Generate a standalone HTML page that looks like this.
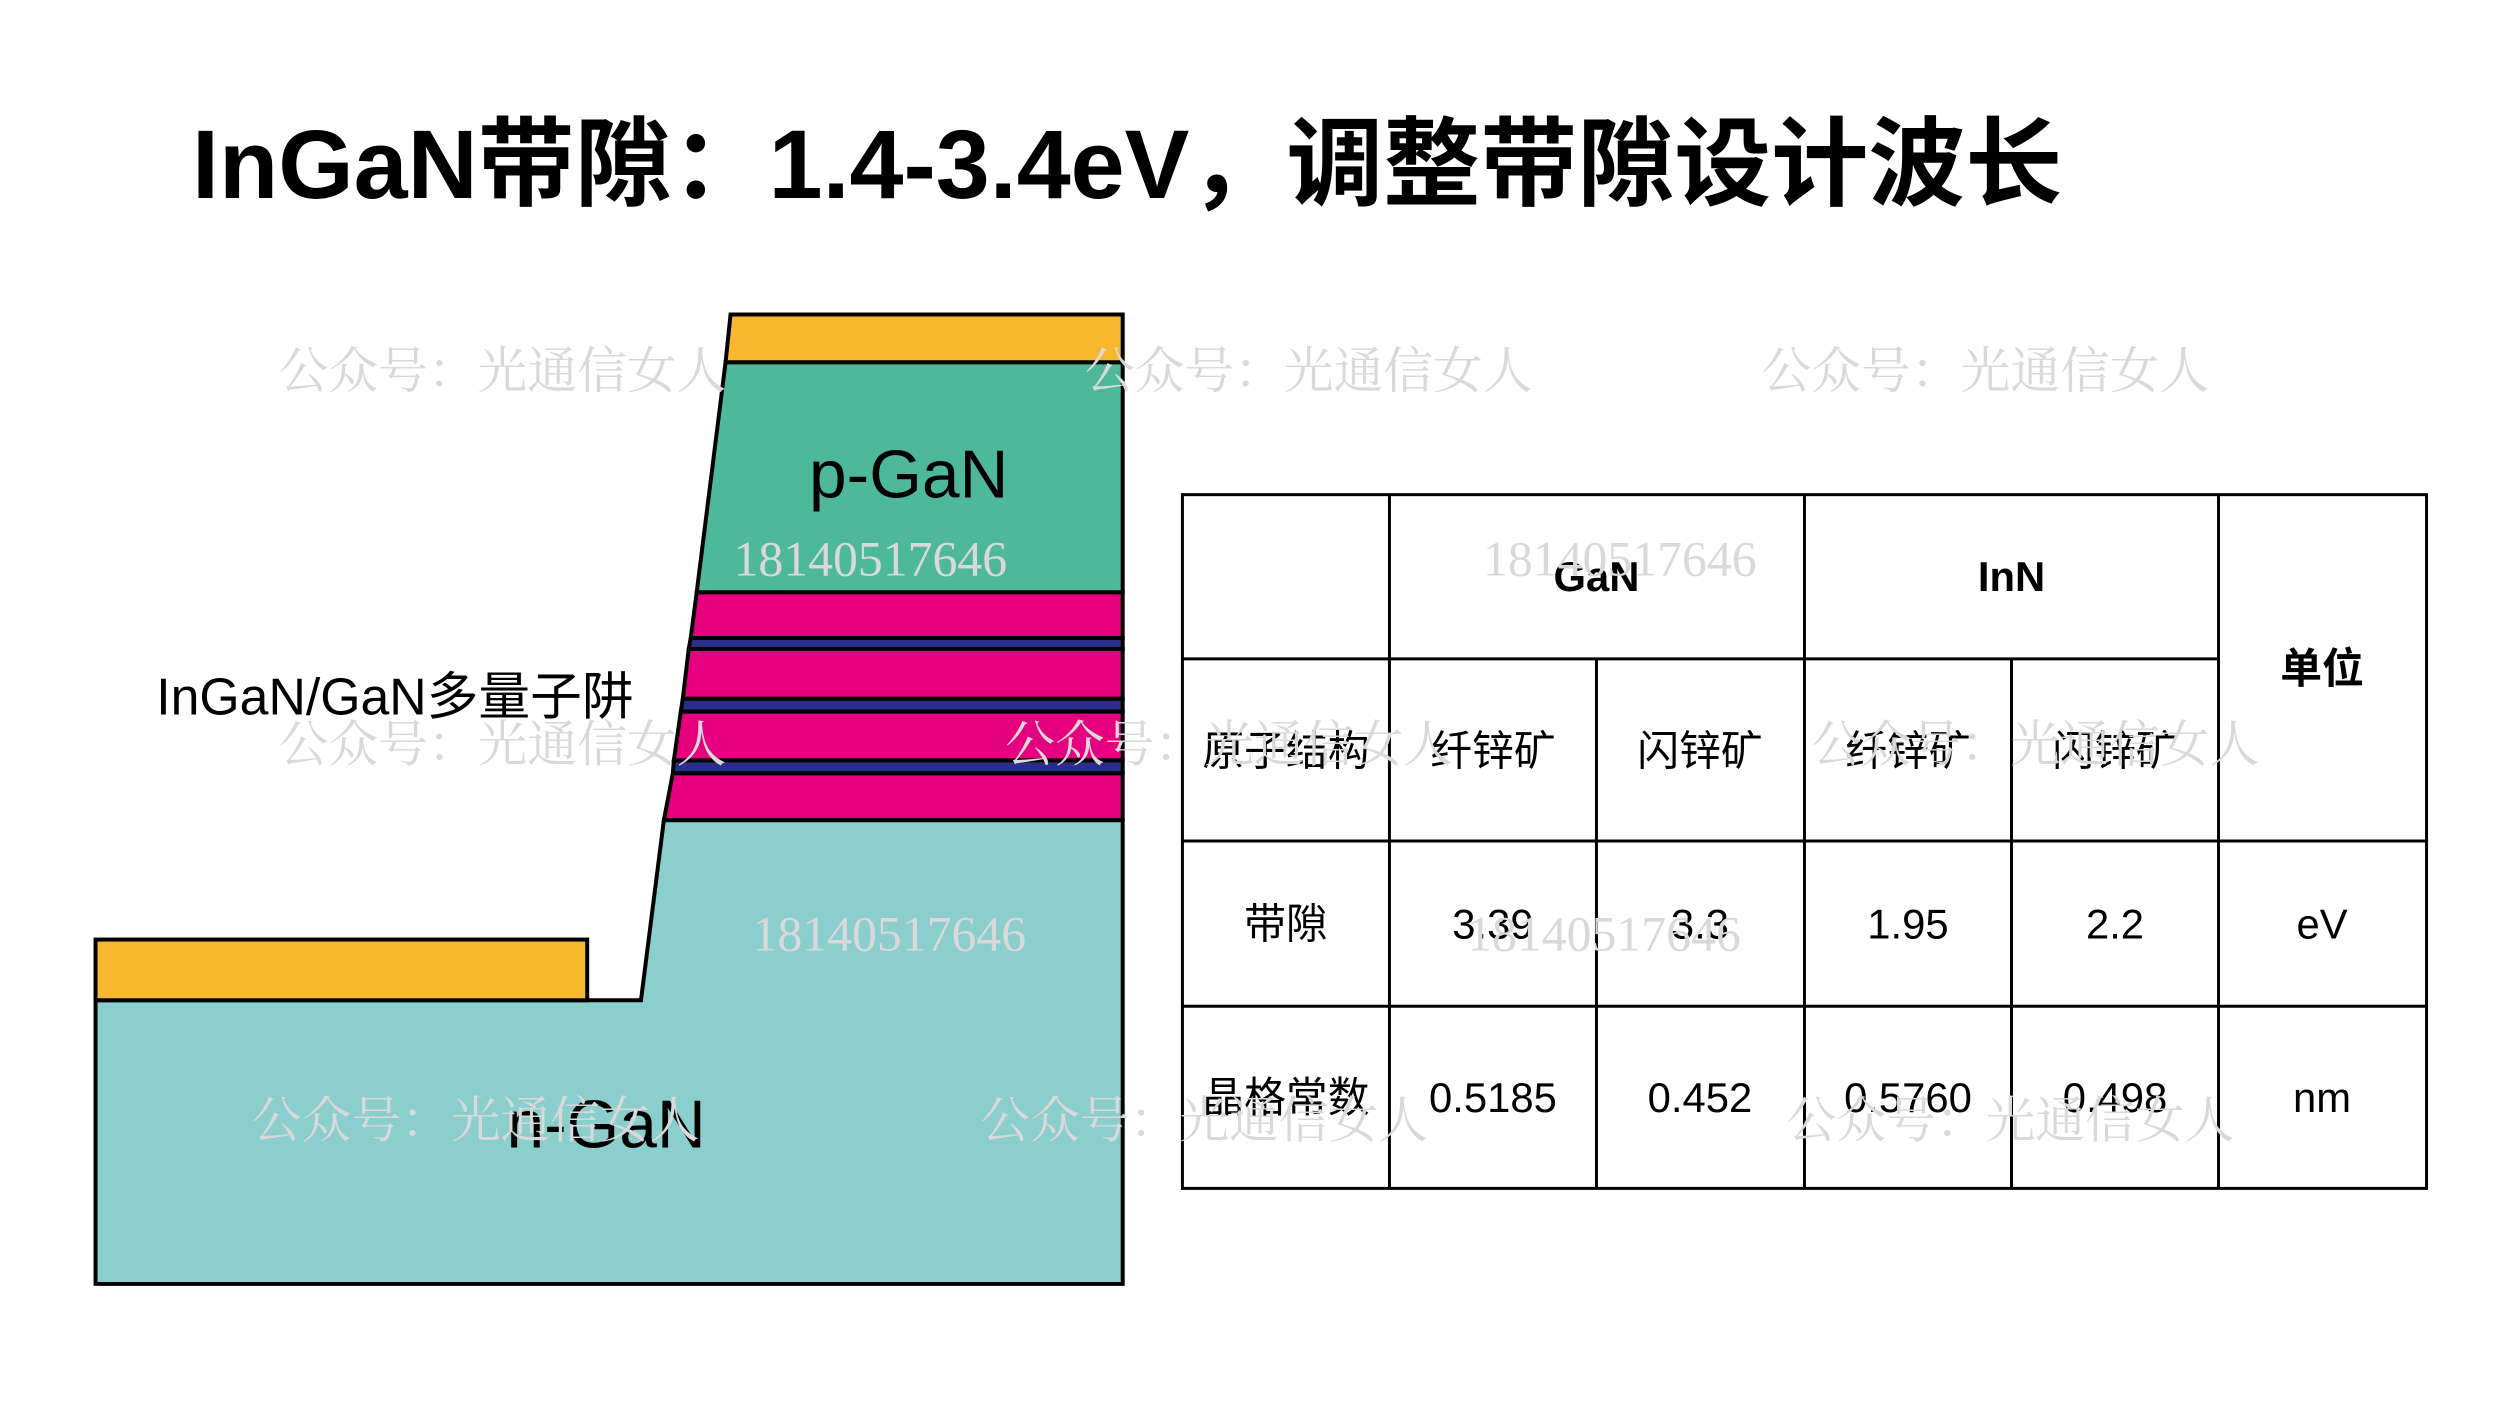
<!DOCTYPE html>
<html><head><meta charset="utf-8"><style>
html,body{margin:0;padding:0;background:#fff;width:2500px;height:1406px;overflow:hidden}
svg{display:block}
.cjk{font-family:"Liberation Sans","Noto Sans CJK SC",sans-serif}
.wm{font-family:"Liberation Serif","Noto Serif CJK SC",serif;fill:#d9d9d9;font-size:50px}
</style></head><body>
<svg width="2500" height="1406" viewBox="0 0 2500 1406" xmlns="http://www.w3.org/2000/svg">
<text x="192" y="198" class="cjk" font-size="97" font-weight="bold" fill="#000">InGaN带隙：1.4-3.4eV，调整带隙设计波长</text>
<g transform="scale(0.9953)">
<!-- n-GaN -->
<polygon points="96,1005 644,1005 667,824 1128,824 1128,1290 96,1290" fill="#8ACECE" stroke="#000" stroke-width="4"/>
<rect x="96" y="944" width="494" height="61" fill="#F7B72E" stroke="#000" stroke-width="4"/>
<!-- MQW layers -->
<polygon points="700,595 1128,595 1128,641 694,641" fill="#E5007F" stroke="#000" stroke-width="4"/>
<polygon points="694,641 1128,641 1128,652 692,652" fill="#2B2D8C" stroke="#000" stroke-width="4"/>
<polygon points="692,652 1128,652 1128,702 686,702" fill="#E5007F" stroke="#000" stroke-width="4"/>
<polygon points="686,702 1128,702 1128,715 684,715" fill="#2B2D8C" stroke="#000" stroke-width="4"/>
<polygon points="684,715 1128,715 1128,764 677,764" fill="#E5007F" stroke="#000" stroke-width="4"/>
<polygon points="677,764 1128,764 1128,777 676,777" fill="#2B2D8C" stroke="#000" stroke-width="4"/>
<polygon points="676,777 1128,777 1128,824 667,824" fill="#E5007F" stroke="#000" stroke-width="4"/>
<!-- p-GaN -->
<polygon points="729,364 1128,364 1128,595 700,595" fill="#4DB99A" stroke="#000" stroke-width="4"/>
<polygon points="734,316 1128,316 1128,364 729,364" fill="#F7B72E" stroke="#000" stroke-width="4"/>

<text x="913" y="500" class="cjk" font-size="68" text-anchor="middle" fill="#000">p-GaN</text>
<text x="609" y="1153" class="cjk" font-size="68" text-anchor="middle" fill="#000">n-GaN</text>
<text x="157" y="718" class="cjk" font-size="52" fill="#000">InGaN/GaN多量子阱</text>

<!-- table -->
<g stroke="#000" stroke-width="3" fill="none">
<rect x="1188" y="497" width="1250" height="697"/>
<line x1="1396" y1="497" x2="1396" y2="1194"/>
<line x1="1813" y1="497" x2="1813" y2="1194"/>
<line x1="2229" y1="497" x2="2229" y2="1194"/>
<line x1="1604" y1="662" x2="1604" y2="1194"/>
<line x1="2021" y1="662" x2="2021" y2="1194"/>
<line x1="1188" y1="662" x2="2229" y2="662"/>
<line x1="1188" y1="845" x2="2438" y2="845"/>
<line x1="1188" y1="1011" x2="2438" y2="1011"/>
</g>
<g class="cjk" font-size="42" text-anchor="middle" fill="#000">
<text x="1604" y="594" font-weight="bold">GaN</text>
<text x="2021" y="594" font-weight="bold">InN</text>
<text x="2333" y="686" font-weight="bold">单位</text>
<text x="1292" y="769">原子结构</text>
<text x="1500" y="769">纤锌矿</text>
<text x="1708" y="769">闪锌矿</text>
<text x="1917" y="769">纤锌矿</text>
<text x="2125" y="769">闪锌矿</text>
<text x="1292" y="943">带隙</text>
<text x="1500" y="943">3.39</text>
<text x="1708" y="943">3.3</text>
<text x="1917" y="943">1.95</text>
<text x="2125" y="943">2.2</text>
<text x="2333" y="943">eV</text>
<text x="1292" y="1117">晶格常数</text>
<text x="1500" y="1117">0.5185</text>
<text x="1708" y="1117">0.452</text>
<text x="1917" y="1117">0.5760</text>
<text x="2125" y="1117">0.498</text>
<text x="2333" y="1117">nm</text>
</g>

<!-- watermarks -->
<g class="wm">
<text x="280" y="390">公众号：光通信女人</text>
<text x="1090" y="390">公众号：光通信女人</text>
<text x="1770" y="390">公众号：光通信女人</text>
<text x="280" y="765">公众号：光通信女人</text>
<text x="1010" y="765">公众号：光通信女人</text>
<text x="1820" y="765">公众号：光通信女人</text>
<text x="253" y="1143">公众号：光通信女人</text>
<text x="985" y="1143">公众号：光通信女人</text>
<text x="1795" y="1143">公众号：光通信女人</text>
<text x="737" y="578">18140517646</text>
<text x="1490" y="578">18140517646</text>
<text x="756" y="955">18140517646</text>
<text x="1474" y="955">18140517646</text>
</g>
</g>
</svg>
</body></html>
